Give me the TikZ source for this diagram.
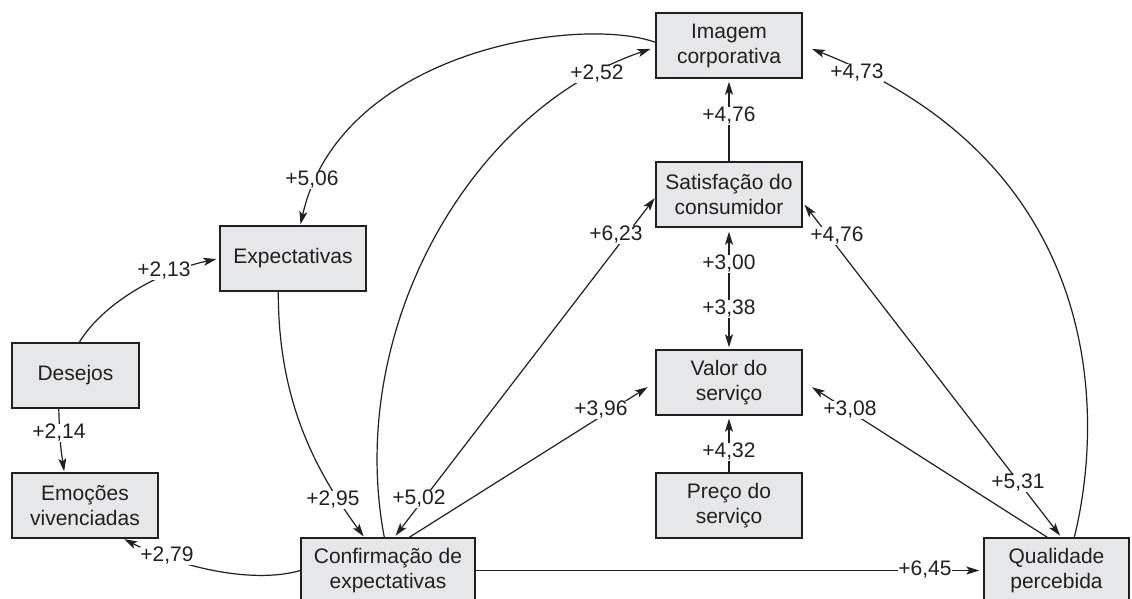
\documentclass[tikz,border=0pt]{standalone}
\usepackage{fontspec}
\setmainfont{Liberation Sans}
\usetikzlibrary{arrows.meta,calc}
\definecolor{ink}{HTML}{231F20}
\definecolor{boxfill}{HTML}{E6E7E8}
\begin{document}
\begin{tikzpicture}[x=1pt,y=-1pt,
  box/.style={draw=ink, fill=boxfill, line width=1.4pt, minimum width=146pt, minimum height=65pt, inner sep=0pt, align=center, text=ink, font=\fontsize{21}{25}\selectfont},
  lbl/.style={fill=white, inner sep=0.8pt, text=ink, font=\fontsize{21}{25}\selectfont},
  conn/.style={draw=ink, line width=1.2pt, -{Stealth[length=13pt,width=8pt,inset=3pt]}},
  both/.style={draw=ink, line width=1.2pt, {Stealth[length=13pt,width=8pt,inset=3pt]}-{Stealth[length=13pt,width=8pt,inset=3pt]}}
]
\clip (0,0) rectangle (1132,599);
\fill[white] (0,0) rectangle (1132,599);

% boxes
\node[box] (imagem) at (729,45.5) {Imagem\\corporativa};
\node[box] (satisf) at (729,194.5) {Satisfação do\\consumidor};
\node[box] (valor) at (729,382.5) {Valor do\\serviço};
\node[box] (preco) at (729,505.5) {Preço do\\serviço};
\node[box] (expect) at (293,258.5) {Expectativas};
\node[box, minimum width=127pt] (desejos) at (75.5,375.5) {Desejos};
\node[box] (emocoes) at (85,505.5) {Emoções\\vivenciadas};
\node[box, minimum width=174pt] (confirm) at (388,570.5) {Confirmação de\\expectativas};
\node[box, minimum width=145pt] (qual) at (1056.5,570.5) {Qualidade\\percebida};

% connectors
\draw[conn, shorten >=1pt] ($(imagem.north west)+(0,30)$) .. controls (580,15) and (340,50) .. ($(expect.north west)+(81,0)$);
\draw[conn, shorten >=3pt] ($(desejos.north west)+(68,0)$) .. controls (105,300) and (165,270) .. (expect.west);
\draw[conn, shorten >=1pt] ($(desejos.south west)+(47.5,0)$) .. controls (59.5,440) and (61,450) .. ($(emocoes.north west)+(53,0)$);
\draw[conn, shorten >=1pt] (confirm.west) .. controls (250,585) and (175,565) .. ($(emocoes.south west)+(112,0)$);
\draw[conn, shorten >=1pt] ($(expect.south west)+(59,0)$) .. controls (278,400) and (315,470) .. ($(confirm.north west)+(64,0)$);
\draw[conn, shorten >=5pt] ($(confirm.north west)+(84,0)$) .. controls (345,330) and (470,110) .. ($(imagem.north west)+(0,35)$);
\draw[both, shorten <=2pt, shorten >=1pt] ($(confirm.north west)+(94,0)$) -- ($(satisf.north west)+(0,36)$);
\draw[conn, shorten >=9pt] ($(confirm.north west)+(109,0)$) -- ($(valor.north west)+(0,33)$);
\draw[conn, shorten >=3pt] (preco.north) -- (valor.south);
\draw[conn, shorten >=3pt] (satisf.north) -- (imagem.south);
\draw[both, shorten <=4pt, shorten >=2pt] (satisf.south) -- (valor.north);
\draw[both, shorten <=3pt, shorten >=2pt] ($(satisf.north east)+(0,41)$) -- ($(qual.north west)+(78,0)$);
\draw[conn, shorten >=11pt] ($(qual.north west)+(64,0)$) -- ($(valor.north east)+(0,32)$);
\draw[conn, shorten >=4pt] (confirm.east) -- (qual.west);
\draw[conn, shorten >=10pt] ($(qual.north west)+(91,0)$) .. controls (1108,400) and (1095,160) .. ($(imagem.north east)+(0,33)$);

% labels
\node[lbl] (l506) at (312,180) {+5,06};
\node[lbl] (l213) at (164,271) {+2,13};
\node[lbl] (l214) at (59,433) {+2,14};
\node[lbl] (l279) at (167,556) {+2,79};
\node[lbl] (l295) at (333,500) {+2,95};
\node[lbl] (l502) at (419,499) {+5,02};
\node[lbl] (l252) at (597,74) {+2,52};
\node[lbl] (l623) at (616,235) {+6,23};
\node[lbl] (l396) at (601,410) {+3,96};
\node[lbl] (l476a) at (729,116) {+4,76};
\node[lbl] (l300) at (729,264) {+3,00};
\node[lbl] (l338) at (729,309) {+3,38};
\node[lbl] (l432) at (729,452) {+4,32};
\node[lbl] (l476b) at (837,236) {+4,76};
\node[lbl] (l308) at (850,410) {+3,08};
\node[lbl] (l531) at (1018,483) {+5,31};
\node[lbl] (l473) at (857,73) {+4,73};
\node[lbl] (l645) at (925,570) {+6,45};
\end{tikzpicture}
\end{document}
